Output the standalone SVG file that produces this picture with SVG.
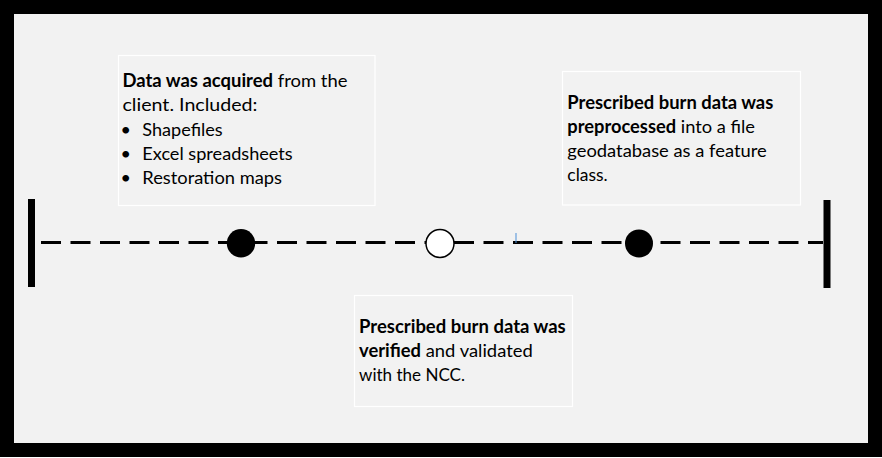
<svg xmlns="http://www.w3.org/2000/svg" width="882" height="458" viewBox="0 0 882 458">
  <style>
    .box { fill: #f2f2f2; stroke: #ffffff; stroke-width: 1.2; }
    .t { font-family: Lato, "Open Sans", "Liberation Sans", sans-serif; font-size: 18px; fill: #000000; }
    .b { font-weight: bold; }
    .bar { fill: #000000; }
    .dot { fill: #000000; }
    .open { fill: #ffffff; stroke: #000000; stroke-width: 1.5; }
  </style>
  <rect x="7" y="7" width="868" height="443" fill="#f2f2f2" stroke="#000000" stroke-width="14"/>

  <g id="connectors">
    <line x1="41" y1="242.5" x2="823" y2="242.5" stroke="#000000" stroke-width="3.2" stroke-dasharray="20 9.5"/>
    <rect class="bar" x="28" y="199" width="7" height="88"/>
    <rect class="bar" x="823.5" y="200" width="7" height="88"/>
    <line x1="516" y1="233" x2="516" y2="243" stroke="#4a8fd8" stroke-width="1"/>
  </g>

  <g id="milestone-1">
    <circle class="dot" cx="241" cy="243.3" r="14.2"/>
  </g>
  <g id="milestone-2">
    <circle class="open" cx="440" cy="243.5" r="14"/>
  </g>
  <g id="milestone-3">
    <circle class="dot" cx="639" cy="243.5" r="14"/>
  </g>

  <g id="note-acquired">
    <rect class="box" x="118.5" y="55.5" width="256.5" height="150"/>
    <text class="t" x="122.5" y="87" textLength="225" lengthAdjust="spacingAndGlyphs"><tspan class="b">Data was acquired</tspan> from the</text>
    <text class="t" x="122.5" y="111" textLength="135" lengthAdjust="spacingAndGlyphs">client. Included:</text>
    <text class="t" x="120.5" y="135.5">•</text>
    <text class="t" x="142.3" y="135.5" textLength="80.4" lengthAdjust="spacingAndGlyphs">Shapefiles</text>
    <text class="t" x="120.5" y="159.5">•</text>
    <text class="t" x="142.3" y="159.5" textLength="150.4" lengthAdjust="spacingAndGlyphs">Excel spreadsheets</text>
    <text class="t" x="120.5" y="183.5">•</text>
    <text class="t" x="142.3" y="183.5" textLength="139.7" lengthAdjust="spacingAndGlyphs">Restoration maps</text>
  </g>

  <g id="note-preprocessed">
    <rect class="box" x="562.5" y="71.5" width="238" height="133.5"/>
    <text class="t" x="567.3" y="108.5" textLength="206" lengthAdjust="spacingAndGlyphs"><tspan class="b">Prescribed burn data was</tspan></text>
    <text class="t" x="567.3" y="132.5" textLength="187.7" lengthAdjust="spacingAndGlyphs"><tspan class="b">preprocessed</tspan> into a file</text>
    <text class="t" x="567.3" y="156.5" textLength="199.4" lengthAdjust="spacingAndGlyphs">geodatabase as a feature</text>
    <text class="t" x="567.3" y="180.5" textLength="40.4" lengthAdjust="spacingAndGlyphs">class.</text>
  </g>

  <g id="note-verified">
    <rect class="box" x="354.5" y="295.5" width="218" height="111"/>
    <text class="t" x="359" y="333" textLength="206.7" lengthAdjust="spacingAndGlyphs"><tspan class="b">Prescribed burn data was</tspan></text>
    <text class="t" x="359" y="357" textLength="173.7" lengthAdjust="spacingAndGlyphs"><tspan class="b">verified</tspan> and validated</text>
    <text class="t" x="359" y="381" textLength="106" lengthAdjust="spacingAndGlyphs">with the NCC.</text>
  </g>
</svg>
